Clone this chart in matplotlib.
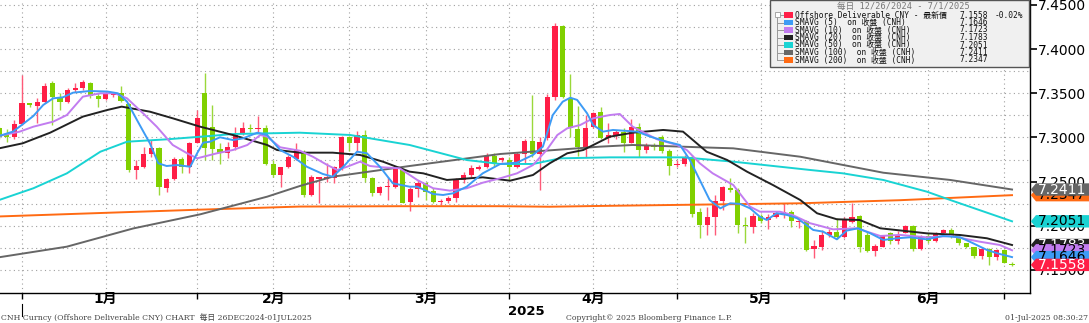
import matplotlib
matplotlib.use("Agg")
import matplotlib.pyplot as plt
import matplotlib.transforms as mtransforms
from matplotlib.patches import Rectangle, Polygon
import numpy as np

plt.rcParams['font.family'] = ['DejaVu Sans', 'Noto Sans CJK TC']

# daily OHLC, 26 Dec 2024 .. 1 Jul 2025 (bar index 0..133)
opens = [7.3104, 7.3040, 7.3010, 7.3153, 7.3387, 7.3360, 7.3406, 7.3613, 7.3450, 7.3400,
         7.3538, 7.3560, 7.3613, 7.3474, 7.3436, 7.3480, 7.3500, 7.3376, 7.2633, 7.2671,
         7.2814, 7.2878, 7.2426, 7.2527, 7.2754, 7.2663, 7.2942, 7.3500, 7.3123, 7.2867,
         7.2829, 7.2889, 7.3040, 7.3112, 7.3097, 7.3104, 7.2701, 7.2576, 7.2663, 7.2754,
         7.2840, 7.2350, 7.2535, 7.2535, 7.2539, 7.2652, 7.3002, 7.2935, 7.3029, 7.2539,
         7.2369, 7.2444, 7.2437, 7.2633, 7.2274, 7.2417, 7.2481, 7.2398, 7.2270, 7.2281,
         7.2312, 7.2519, 7.2576, 7.2644, 7.2662, 7.2791, 7.2745, 7.2745, 7.2670, 7.2813,
         7.2964, 7.2813, 7.2991, 7.3455, 7.4262, 7.3443, 7.3093, 7.2896, 7.3123, 7.3287,
         7.2990, 7.3030, 7.3066, 7.2942, 7.3123, 7.2859, 7.2916, 7.3010, 7.2852, 7.2686,
         7.2701, 7.2784, 7.2162, 7.2011, 7.2105, 7.2286, 7.2426, 7.2407, 7.2011, 7.1992,
         7.2113, 7.2067, 7.2105, 7.2135, 7.2162, 7.2041, 7.2049, 7.1738, 7.1765, 7.1897,
         7.1934, 7.1878, 7.2047, 7.2112, 7.1900, 7.1719, 7.1765, 7.1923, 7.1832, 7.1923,
         7.1998, 7.1734, 7.1885, 7.1832, 7.1923, 7.1953, 7.1870, 7.1802, 7.1757, 7.1659,
         7.1734, 7.1644, 7.1727, 7.1572]
highs = [7.3123, 7.3097, 7.3198, 7.3707, 7.3394, 7.3443, 7.3620, 7.3643, 7.3500, 7.3557,
         7.3613, 7.3650, 7.3632, 7.3500, 7.3519, 7.3508, 7.3583, 7.3387, 7.2746, 7.2897,
         7.2972, 7.2890, 7.2539, 7.2784, 7.2784, 7.2953, 7.3312, 7.3734, 7.3368, 7.2934,
         7.2953, 7.3123, 7.3180, 7.3153, 7.3243, 7.3142, 7.2746, 7.2671, 7.2803, 7.2934,
         7.2859, 7.2576, 7.2558, 7.2708, 7.2678, 7.3017, 7.3017, 7.3078, 7.3085, 7.2558,
         7.2452, 7.2558, 7.2652, 7.2652, 7.2444, 7.2519, 7.2500, 7.2425, 7.2300, 7.2338,
         7.2538, 7.2613, 7.2689, 7.2689, 7.2828, 7.2821, 7.2780, 7.2783, 7.2840, 7.2979,
         7.3481, 7.3010, 7.3492, 7.4292, 7.4273, 7.3719, 7.3357, 7.3255, 7.3292, 7.3349,
         7.3161, 7.3085, 7.3104, 7.3206, 7.3161, 7.2934, 7.2942, 7.3029, 7.2867, 7.2746,
         7.2803, 7.2803, 7.2200, 7.2218, 7.2350, 7.2452, 7.2539, 7.2426, 7.2105, 7.2150,
         7.2135, 7.2135, 7.2162, 7.2263, 7.2180, 7.2075, 7.2067, 7.1840, 7.1953, 7.1961,
         7.2085, 7.2104, 7.2255, 7.2123, 7.1925, 7.1795, 7.1897, 7.1934, 7.1946, 7.2010,
         7.2010, 7.1897, 7.1915, 7.1934, 7.1961, 7.1972, 7.1885, 7.1810, 7.1765, 7.1765,
         7.1746, 7.1734, 7.1734, 7.1595]
lows = [7.2980, 7.2953, 7.2980, 7.3142, 7.3342, 7.3160, 7.3394, 7.3142, 7.3310, 7.3387,
        7.3520, 7.3538, 7.3443, 7.3350, 7.3425, 7.3462, 7.3406, 7.2614, 7.2531, 7.2652,
        7.2784, 7.2350, 7.2388, 7.2520, 7.2595, 7.2595, 7.2935, 7.2746, 7.2746, 7.2701,
        7.2765, 7.2859, 7.3029, 7.3066, 7.3066, 7.2689, 7.2558, 7.2437, 7.2652, 7.2746,
        7.2324, 7.2339, 7.2263, 7.2501, 7.2490, 7.2633, 7.2852, 7.2852, 7.2501, 7.2339,
        7.2350, 7.2294, 7.2426, 7.2256, 7.2172, 7.2330, 7.2293, 7.2255, 7.2236, 7.2262,
        7.2274, 7.2481, 7.2557, 7.2632, 7.2651, 7.2670, 7.2720, 7.2519, 7.2651, 7.2708,
        7.2783, 7.2406, 7.2972, 7.3425, 7.3443, 7.3010, 7.2791, 7.2783, 7.3104, 7.2980,
        7.2934, 7.2980, 7.2840, 7.2934, 7.2776, 7.2821, 7.2859, 7.2829, 7.2576, 7.2671,
        7.2678, 7.2105, 7.1860, 7.1898, 7.1898, 7.2180, 7.2388, 7.1924, 7.1804, 7.1924,
        7.2030, 7.1962, 7.2086, 7.2086, 7.1992, 7.1973, 7.1720, 7.1632, 7.1727, 7.1870,
        7.1847, 7.1859, 7.2036, 7.1708, 7.1700, 7.1659, 7.1757, 7.1795, 7.1795, 7.1915,
        7.1719, 7.1727, 7.1802, 7.1821, 7.1915, 7.1859, 7.1783, 7.1746, 7.1632, 7.1621,
        7.1553, 7.1614, 7.1576, 7.1550]
closes = [7.3002, 7.3000, 7.3153, 7.3387, 7.3364, 7.3406, 7.3583, 7.3462, 7.3400, 7.3538,
          7.3560, 7.3632, 7.3474, 7.3436, 7.3500, 7.3489, 7.3417, 7.2633, 7.2678, 7.2814,
          7.2878, 7.2444, 7.2527, 7.2754, 7.2663, 7.2935, 7.3217, 7.2878, 7.2867, 7.2829,
          7.2889, 7.3029, 7.3112, 7.3097, 7.3104, 7.2701, 7.2576, 7.2663, 7.2784, 7.2859,
          7.2350, 7.2558, 7.2550, 7.2550, 7.2663, 7.3002, 7.2942, 7.3029, 7.2539, 7.2369,
          7.2444, 7.2456, 7.2640, 7.2263, 7.2413, 7.2481, 7.2387, 7.2274, 7.2285, 7.2312,
          7.2519, 7.2576, 7.2651, 7.2662, 7.2791, 7.2700, 7.2764, 7.2670, 7.2813, 7.2964,
          7.2813, 7.2953, 7.3455, 7.4262, 7.3462, 7.3104, 7.2889, 7.3111, 7.3281, 7.2990,
          7.3030, 7.3066, 7.2942, 7.3123, 7.2859, 7.2904, 7.2889, 7.2852, 7.2678, 7.2701,
          7.2776, 7.2135, 7.2011, 7.2105, 7.2286, 7.2437, 7.2407, 7.2011, 7.2000, 7.2113,
          7.2049, 7.2105, 7.2143, 7.2162, 7.2049, 7.2060, 7.1728, 7.1772, 7.1897, 7.1934,
          7.1870, 7.2078, 7.2104, 7.1760, 7.1719, 7.1772, 7.1885, 7.1832, 7.1897, 7.1998,
          7.1734, 7.1885, 7.1832, 7.1915, 7.1953, 7.1870, 7.1802, 7.1757, 7.1659, 7.1734,
          7.1644, 7.1727, 7.1583, 7.1558]

# moving averages (bar index, value)
sma5_x = [0, 1.8, 3.1, 4.5, 5.8, 7.1, 8.4, 9.7, 11.9, 14.2, 15.6, 16.8, 18.1, 19.8, 20.9,
          22.0, 23.4, 25.1, 26.0, 26.8, 27.7, 29.0, 30.7, 32.0, 33.9, 35.2, 36.9, 38.6, 40.4,
          42.5, 43.8, 45.2, 47.0, 48.3, 50.0, 51.7, 53.9, 54.9, 57.0, 58.3, 59.6, 61.4, 63.5,
          65.8, 68.0, 70.1, 71.4, 72.7, 74.0, 75.0, 75.9, 77.2, 78.0, 79.3, 80.6, 83.8, 85.5,
          87.7, 89.4, 90.7, 92.0, 93.3, 94.7, 96.0, 97.3, 98.6, 99.9, 100.8, 102.1, 103.5,
          104.8, 106.9, 108.2, 110.0, 111.3, 112.8, 114.4, 116.1, 117.9, 119.6, 121.8, 123.9,
          126.2, 127.9, 129.7, 131.4, 133]
sma5_y = [7.3017, 7.3066, 7.3149, 7.3243, 7.3368, 7.3443, 7.3455, 7.3507, 7.3526, 7.3520,
          7.3500, 7.3405, 7.3198, 7.2934, 7.2708, 7.2677, 7.2688, 7.2669, 7.2821, 7.2941,
          7.2952, 7.3002, 7.2971, 7.2989, 7.3054, 7.3028, 7.2858, 7.2782, 7.2669, 7.2587,
          7.2556, 7.2669, 7.2839, 7.2821, 7.2669, 7.2481, 7.2443, 7.2443, 7.2360, 7.2349,
          7.2368, 7.2443, 7.2594, 7.2700, 7.2715, 7.2802, 7.2896, 7.3254, 7.3405, 7.3450,
          7.3425, 7.3274, 7.3141, 7.3066, 7.3085, 7.3066, 7.3009, 7.2952, 7.2915, 7.2745,
          7.2519, 7.2292, 7.2198, 7.2255, 7.2248, 7.2198, 7.2103, 7.2066, 7.2142, 7.2122,
          7.2085, 7.1953, 7.1934, 7.1847, 7.1946, 7.1972, 7.1915, 7.1840, 7.1859, 7.1870,
          7.1847, 7.1885, 7.1870, 7.1802, 7.1727, 7.1681, 7.1646]
sma10_x = [0, 2.7, 4.5, 7.1, 8.9, 11.0, 13.3, 15.2, 16.8, 18.9, 20.7, 22.8, 24.7, 26.0, 28.6,
           30.7, 32.6, 34.3, 35.2, 36.9, 39.5, 41.2, 43.1, 44.4, 45.7, 47.4, 48.7, 50.4, 52.6,
           54.9, 57.0, 59.2, 61.4, 63.5, 65.8, 68.0, 70.1, 71.9, 73.3, 74.6, 76.3, 78.0, 80.2,
           81.5, 83.2, 86.4, 89.0, 90.3, 92.0, 93.7, 96.4, 98.6, 99.9, 102.5, 104.2, 106.5,
           107.4, 109.5, 112.6, 115.7, 118.3, 121.8, 124.9, 128.8, 131.4, 133]
sma10_y = [7.3017, 7.3066, 7.3122, 7.3179, 7.3254, 7.3462, 7.3500, 7.3500, 7.3443, 7.3274,
           7.3122, 7.2915, 7.2821, 7.2764, 7.2821, 7.2858, 7.2915, 7.3028, 7.3009, 7.2889,
           7.2850, 7.2782, 7.2688, 7.2632, 7.2669, 7.2726, 7.2677, 7.2662, 7.2651, 7.2519,
           7.2425, 7.2398, 7.2425, 7.2488, 7.2538, 7.2594, 7.2688, 7.2858, 7.3028, 7.3104,
           7.3141, 7.3217, 7.3254, 7.3266, 7.3122, 7.2979, 7.2915, 7.2858, 7.2708, 7.2594,
           7.2462, 7.2217, 7.2160, 7.2160, 7.2122, 7.2029, 7.2009, 7.1960, 7.1972, 7.1885,
           7.1897, 7.1870, 7.1885, 7.1820, 7.1783, 7.1723]
sma20_x = [0, 3.1, 6.7, 11.0, 14.2, 16.1, 19.8, 22.8, 26.4, 30.7, 35.2, 36.5, 39.5, 43.8,
           47.4, 50.4, 53.9, 55.7, 58.8, 63.5, 67.1, 70.1, 72.3, 74.6, 76.7, 80.2, 83.2, 87.2,
           89.8, 91.1, 92.9, 95.6, 98.2, 101.6, 105.2, 107.4, 110.0, 113.0, 115.7, 121.8,
           126.2, 129.7, 133]
sma20_y = [7.2877, 7.2934, 7.3054, 7.3236, 7.3311, 7.3349, 7.3292, 7.3217, 7.3122, 7.3028,
           7.2915, 7.2858, 7.2828, 7.2828, 7.2802, 7.2726, 7.2613, 7.2594, 7.2519, 7.2549,
           7.2511, 7.2575, 7.2708, 7.2821, 7.2858, 7.3009, 7.3054, 7.3085, 7.3066, 7.2971,
           7.2839, 7.2745, 7.2613, 7.2462, 7.2292, 7.2142, 7.2074, 7.2066, 7.1972, 7.1915,
           7.1896, 7.1859, 7.1783]
sma50_x = [0, 4.5, 8.9, 13.3, 16.8, 22.0, 27.7, 30.7, 39.5, 46.1, 53.9, 61.4, 65.8, 70.1,
           73.7, 80.2, 89.8, 96.4, 106.5, 110.8, 116.1, 121.8, 124.9, 133]
sma50_y = [7.2292, 7.2425, 7.2594, 7.2839, 7.2952, 7.2979, 7.3017, 7.3039, 7.3054, 7.3028,
           7.2915, 7.2745, 7.2700, 7.2700, 7.2764, 7.2775, 7.2775, 7.2726, 7.2632, 7.2594,
           7.2519, 7.2387, 7.2292, 7.2051]
sma100_x = [0, 8.9, 17.6, 26.4, 35.2, 39.5, 43.8, 53.9, 65.8, 78.9, 83.2, 92.0, 96.4, 105.2,
            116.1, 124.9, 133]
sma100_y = [7.1644, 7.1764, 7.1970, 7.2130, 7.2330, 7.2451, 7.2556, 7.2677, 7.2813, 7.2896,
            7.2915, 7.2889, 7.2877, 7.2782, 7.2601, 7.2519, 7.2411]
sma200_x = [0, 13.3, 26.4, 39.5, 52.6, 65.8, 72.3, 78.9, 92.0, 105.2, 118.3, 133]
sma200_y = [7.2106, 7.2145, 7.2183, 7.2218, 7.2222, 7.2222, 7.2216, 7.2225, 7.2240, 7.2255,
            7.2290, 7.2347]

ma_names = ['SMAVG (5)  on 收盤 (CNH)', 'SMAVG (10)  on 收盤 (CNH)', 'SMAVG (20)  on 收盤 (CNH)',
            'SMAVG (50)  on 收盤 (CNH)', 'SMAVG (100)  on 收盤 (CNH)', 'SMAVG (200)  on 收盤 (CNH)']
ma_last = [7.1646, 7.1723, 7.1783, 7.2051, 7.2411, 7.2347]
last_price = 7.1558
last_change = '-0.02%'

month_end_idx = [3, 26, 46, 67, 89, 111, 132]
mid_month_idx = [14, 36, 56, 78, 100, 122]
month_labels = ['1月', '2月', '3月', '4月', '5月', '6月']
year_label = '2025'
year_idx = 69.2

RED = '#ff1e46'
GREEN = '#80d000'
C_MA = ['#3d9bf5', '#c27cf0', '#222222', '#19d3d3', '#666666', '#ff6a13']

W, H = 1089, 323
fig = plt.figure(figsize=(W / 100, H / 100), dpi=100)
fig.patch.set_facecolor('white')
ax = fig.add_axes([0, 1 - 292.7 / H, 1030 / W, 292.7 / H])
ax.set_xlim(0.12, 135.36)
ax.set_ylim(7.1243, 7.4556)

# grid
for v in np.arange(7.15, 7.451, 0.025):
    ax.axhline(v, color='#a0a0a0', lw=0.8, ls=(0, (1, 3)), zorder=0)
for xi in sorted(month_end_idx + mid_month_idx):
    ax.axvline(xi, color='#a0a0a0', lw=0.8, ls=(0, (1, 3)), zorder=0)

# candles
o = np.array(opens); c = np.array(closes); h = np.array(highs); l = np.array(lows)
idx = np.arange(len(c))
up = c >= o
ax.vlines(idx, l, h, colors=np.where(up, '#ff5a78', '#9ad83a'), lw=1.0, zorder=2)
body_lo = np.minimum(o, c)
body_h = np.maximum(np.abs(c - o), 0.0012)
ax.bar(idx, body_h, bottom=body_lo, width=0.68, color=np.where(up, RED, GREEN), lw=0, zorder=3)

# moving averages
ma_x = [sma5_x, sma10_x, sma20_x, sma50_x, sma100_x, sma200_x]
ma_y = [sma5_y, sma10_y, sma20_y, sma50_y, sma100_y, sma200_y]
for k in [5, 4, 3, 2, 1, 0]:
    ax.plot(ma_x[k], ma_y[k], color=C_MA[k], lw=1.4, zorder=4, solid_joinstyle='round')

# axes styling
for s in ['top', 'left']:
    ax.spines[s].set_visible(False)
ax.spines['right'].set_linewidth(1.0)
ax.spines['bottom'].set_linewidth(1.0)
ax.yaxis.tick_right()
ax.set_yticks(np.arange(7.15, 7.451, 0.05))
ax.set_yticklabels(['%.4f' % v for v in np.arange(7.15, 7.451, 0.05)])
ax.tick_params(axis='y', length=5, width=1.2, pad=1, labelsize=10, colors='black')
ax.set_xticks(month_end_idx)
ax.set_xticklabels([''] * len(month_end_idx))
ax.tick_params(axis='x', length=4, width=1, direction='out')

for xi, lab in zip(mid_month_idx, month_labels):
    ax.text(xi, -0.022, lab, transform=ax.get_xaxis_transform(), ha='center', va='center',
            fontsize=10, fontweight='bold', family=['DejaVu Sans', 'Noto Sans CJK TC'])
ax.text(year_idx, -0.063, year_label, transform=ax.get_xaxis_transform(), ha='center',
        va='center', fontsize=9.5, fontweight='bold')
ax.plot([month_end_idx[0]] * 2, [-0.038, -0.08], color='black', lw=0.8,
        transform=ax.get_xaxis_transform(), clip_on=False)

# value tags on the right axis (they overlap, as in the source chart)
trans = mtransforms.blended_transform_factory(ax.transAxes, ax.transData)
hh = 6.2 / 883.5
tags = [(ma_last[5], C_MA[5], 'black'), (ma_last[4], C_MA[4], 'white'),
        (ma_last[3], C_MA[3], 'black'), (ma_last[2], C_MA[2], 'white'),
        (ma_last[1], C_MA[1], 'black'), (ma_last[0], C_MA[0], 'black'),
        (last_price, RED, 'white')]
for n, (val, fc, tc) in enumerate(tags):
    poly = Polygon([(1.0008, val), (1.0058, val + hh), (1.07, val + hh),
                    (1.07, val - hh), (1.0058, val - hh)], closed=True,
                   transform=trans, facecolor=fc, edgecolor='none', clip_on=False,
                   zorder=10 + 2 * n)
    ax.add_patch(poly)
    ax.text(1.0075, val, '%.4f' % val, transform=trans, ha='left', va='center',
            fontsize=10, color=tc, clip_on=False, zorder=11 + 2 * n)

# legend box
def fx(px):
    return px / W

def fy(py):
    return 1 - py / H

mono = ['DejaVu Sans Mono', 'Noto Sans CJK TC']
fig.add_artist(Rectangle((fx(770), fy(67)), fx(1029) - fx(770), fy(0) - fy(67),
                         transform=fig.transFigure, facecolor='#f0f0f0',
                         edgecolor='#555555', lw=1.0, zorder=20))
fig.text(fx(903), fy(6.5), '每日 12/26/2024 - 7/1/2025', ha='center', va='center',
         fontsize=6.2, color='#777777', family=mono, zorder=21)
rows_y = [15, 22.5, 30, 37.5, 45, 52.5, 60]
row_names = ['Offshore Deliverable CNY - 最新價'] + ma_names
row_vals = [last_price] + ma_last
row_cols = [RED] + C_MA
fig.add_artist(plt.Line2D([fx(777), fx(777)], [fy(17), fy(60)], color='#999999', lw=0.7,
                          transform=fig.transFigure, zorder=21))
fig.add_artist(Rectangle((fx(774.5), fy(16.5)), fx(5), 5 / H, transform=fig.transFigure,
                         facecolor='white', edgecolor='#999999', lw=0.6, zorder=22))
for ry, name, val, col in zip(rows_y, row_names, row_vals, row_cols):
    fig.add_artist(plt.Line2D([fx(777), fx(783)], [fy(ry), fy(ry)], color='#999999', lw=0.7,
                              transform=fig.transFigure, zorder=21))
    fig.add_artist(Rectangle((fx(784), fy(ry + 2.8)), fx(9), 5.6 / H,
                             transform=fig.transFigure, facecolor=col, edgecolor='none',
                             zorder=22))
    fig.text(fx(795), fy(ry), name, ha='left', va='center', fontsize=5.7, family=mono,
             color='#111111', zorder=22)
    fig.text(fx(988), fy(ry), '%.4f' % val, ha='right', va='center', fontsize=5.7,
             family=mono, color='#111111', zorder=22)
fig.text(fx(995), fy(rows_y[0]), last_change, ha='left', va='center', fontsize=5.7,
         family=mono, color='#111111', zorder=22)

# footer
serif = ['DejaVu Serif', 'Noto Sans CJK TC']
fig.text(fx(1), fy(318), 'CNH Curncy (Offshore Deliverable CNY) CHART  每日 26DEC2024-01JUL2025',
         ha='left', va='center', fontsize=5.6, family=serif, color='#444444')
fig.text(fx(566), fy(318), 'Copyright\u00a9 2025 Bloomberg Finance L.P.', ha='left', va='center',
         fontsize=5.6, family=serif, color='#444444')
fig.text(fx(1088), fy(318), '01-Jul-2025 08:30:27', ha='right', va='center',
         fontsize=5.6, family=serif, color='#444444')

fig.savefig('out.png', dpi=100, facecolor='white')
